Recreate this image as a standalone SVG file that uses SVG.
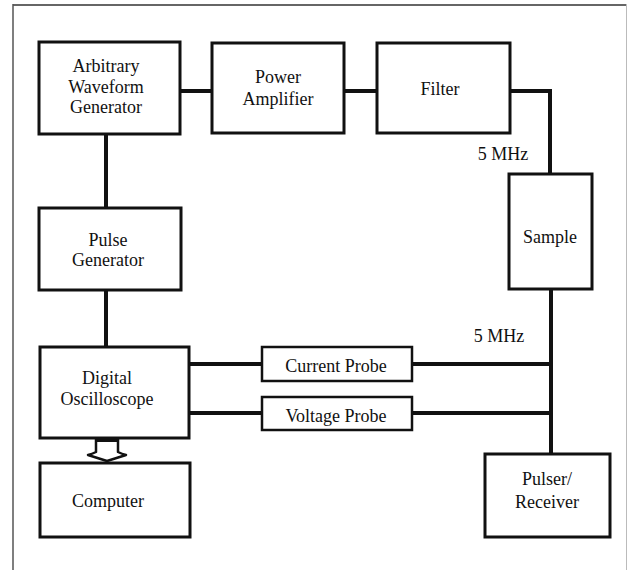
<svg xmlns="http://www.w3.org/2000/svg" width="628" height="570" viewBox="0 0 628 570">
<style>
.box{fill:#fff;stroke:#111;stroke-width:3}
.pbox{fill:#fff;stroke:#111;stroke-width:2.5}
.wire{fill:none;stroke:#111;stroke-width:4}
text{font-family:"Liberation Serif","Times New Roman",serif;font-size:18px;fill:#111;text-anchor:middle}
</style>
<rect width="628" height="570" fill="#fff"/>
<g id="frame">
<line x1="13" y1="5" x2="627" y2="5" stroke="#666" stroke-width="2"/>
<line x1="13" y1="4" x2="13" y2="570" stroke="#555" stroke-width="1.5"/>
<line x1="626.5" y1="4" x2="626.5" y2="570" stroke="#bbb" stroke-width="1"/>
</g>
<g id="connectors">
<line class="wire" x1="180" y1="91" x2="212" y2="91"/>
<line class="wire" x1="344" y1="91" x2="377" y2="91"/>
<polyline class="wire" points="510,91 550,91 550,174"/>
<line class="wire" x1="106" y1="134" x2="106" y2="208"/>
<line class="wire" x1="106" y1="290" x2="106" y2="347"/>
<line class="wire" x1="551" y1="289" x2="551" y2="454"/>
<line class="wire" x1="189" y1="364" x2="262" y2="364"/>
<line class="wire" x1="412" y1="364" x2="551" y2="364"/>
<line class="wire" x1="189" y1="413" x2="262" y2="413"/>
<line class="wire" x1="412" y1="413" x2="551" y2="413"/>
<path d="M96,438 L96,452 Q92,454 88,455 L107,461 L126,455 Q122,454 118,452 L118,438 Z" fill="#fff" stroke="#111" stroke-width="2.5" stroke-linejoin="round"/>
<line x1="96" y1="440" x2="118" y2="440" stroke="#111" stroke-width="4"/>
<text x="503" y="160">5 MHz</text>
<text x="499" y="342">5 MHz</text>
</g>
<g id="awg">
<rect class="box" x="39" y="42" width="141" height="92"/>
<text x="106" y="72">Arbitrary</text>
<text x="106" y="93">Waveform</text>
<text x="106" y="113">Generator</text>
</g>
<g id="power-amplifier">
<rect class="box" x="212" y="43" width="132" height="90"/>
<text x="278" y="83">Power</text>
<text x="278" y="105">Amplifier</text>
</g>
<g id="filter">
<rect class="box" x="377" y="43" width="133" height="90"/>
<text x="440" y="95">Filter</text>
</g>
<g id="sample">
<rect class="box" x="509" y="174" width="83" height="115"/>
<text x="550" y="243">Sample</text>
</g>
<g id="pulse-generator">
<rect class="box" x="39" y="208" width="142" height="82"/>
<text x="108" y="246">Pulse</text>
<text x="108" y="266">Generator</text>
</g>
<g id="digital-oscilloscope">
<rect class="box" x="40" y="347" width="149" height="91"/>
<text x="107" y="384">Digital</text>
<text x="107" y="405">Oscilloscope</text>
</g>
<g id="computer">
<rect class="box" x="40" y="463" width="150" height="74"/>
<text x="108" y="507">Computer</text>
</g>
<g id="current-probe">
<rect class="pbox" x="262" y="347" width="150" height="34"/>
<text x="336" y="372">Current Probe</text>
</g>
<g id="voltage-probe">
<rect class="pbox" x="262" y="397" width="150" height="33"/>
<text x="336" y="422">Voltage Probe</text>
</g>
<g id="pulser-receiver">
<rect class="box" x="485" y="454" width="125" height="83"/>
<text x="547" y="485">Pulser/</text>
<text x="547" y="508">Receiver</text>
</g>
</svg>
